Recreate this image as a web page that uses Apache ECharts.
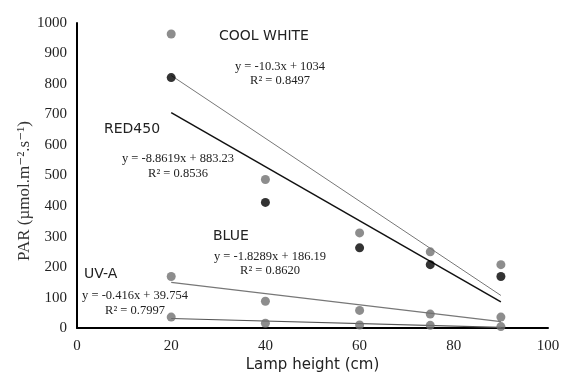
<!DOCTYPE html>
<html><head><meta charset="utf-8">
<script src="https://cdn.jsdelivr.net/npm/echarts@6/dist/echarts.min.js"></script>
<style>html,body{margin:0;padding:0;background:#fff}#c{width:563px;height:378px}</style>
</head><body><div id="c"></div>
<script>
const heights = [20, 40, 60, 75, 90];
const coolWhite = [964, 487, 312, 250, 208];
const red450 = [821, 412, 263, 208, 169];
const blue = [169, 88, 58, 46, 36];
const uva = [36, 16, 10, 9, 5];
const coolWhiteTrend = [[20, 828], [90, 107]];
const red450Trend = [[20, 706], [90, 86]];
const blueTrend = [[20, 150], [90, 21]];
const uvaTrend = [[20, 31.4], [90, 2.3]];
const xTicks = [0, 20, 40, 60, 80, 100];
const yTicks = [0, 100, 200, 300, 400, 500, 600, 700, 800, 900, 1000];

const pts = (arr) => heights.map((h, i) => [h, arr[i]]);
const chart = echarts.init(document.getElementById('c'));
const serif = '"Liberation Serif", "DejaVu Serif", serif';
const sans = '"DejaVu Sans", Verdana, sans-serif';
const scatter = (data, color) => ({ type: 'scatter', data: pts(data), symbolSize: 9, itemStyle: { color }, z: 3 });
const line = (data, color, w) => ({ type: 'line', data, symbol: 'none', lineStyle: { color, width: w }, z: 2 });
const txt = (x, y, text, font, size, align) => ({ type: 'text', x, y, style: { text, font: size + 'px ' + font, fill: '#222', textAlign: align || 'left', textVerticalAlign: 'top' } });

chart.setOption({
  animation: false,
  grid: { left: 77, right: 15, top: 23, bottom: 47 },
  xAxis: {
    type: 'value', min: 0, max: 100, interval: 20,
    axisLine: { lineStyle: { color: '#000', width: 2 } },
    axisTick: { show: false }, splitLine: { show: false },
    axisLabel: { color: '#222', fontFamily: serif, fontSize: 15, margin: 10, formatter: v => String(v) },
    name: 'Lamp height (cm)', nameLocation: 'middle', nameGap: 26,
    nameTextStyle: { color: '#222', fontFamily: sans, fontSize: 15 }
  },
  yAxis: {
    type: 'value', min: 0, max: 1000, interval: 100,
    axisLine: { show: true, lineStyle: { color: '#000', width: 2 } },
    axisTick: { show: false }, splitLine: { show: false },
    axisLabel: { color: '#222', fontFamily: serif, fontSize: 15, margin: 10, formatter: v => String(v) }
  },
  series: [
    line(coolWhiteTrend, '#777', 1),
    line(red450Trend, '#111', 1.5),
    line(blueTrend, '#777', 1.2),
    line(uvaTrend, '#555', 1.2),
    scatter(coolWhite, '#707070'),
    scatter(red450, '#000'),
    scatter(blue, '#707070'),
    scatter(uva, '#707070')
  ],
  graphic: [
    { type: 'text', x: 25, y: 191, rotation: Math.PI / 2,
      style: { text: 'PAR (µmol.m⁻².s⁻¹)', font: '17px ' + serif, fill: '#333', textAlign: 'center', textVerticalAlign: 'middle' } },
    txt(219, 29, 'COOL WHITE', sans, 14),
    txt(280, 60, 'y = -10.3x + 1034', serif, 12.5, 'center'),
    txt(280, 74, 'R² = 0.8497', serif, 12.5, 'center'),
    txt(104, 122, 'RED450', sans, 14),
    txt(178, 152, 'y = -8.8619x + 883.23', serif, 12.5, 'center'),
    txt(178, 167, 'R² = 0.8536', serif, 12.5, 'center'),
    txt(213, 229, 'BLUE', sans, 14),
    txt(270, 250, 'y = -1.8289x + 186.19', serif, 12.5, 'center'),
    txt(270, 264, 'R² = 0.8620', serif, 12.5, 'center'),
    txt(84, 267, 'UV-A', sans, 14),
    txt(135, 289, 'y = -0.416x + 39.754', serif, 12.5, 'center'),
    txt(135, 304, 'R² = 0.7997', serif, 12.5, 'center')
  ]
});
</script></body></html>
